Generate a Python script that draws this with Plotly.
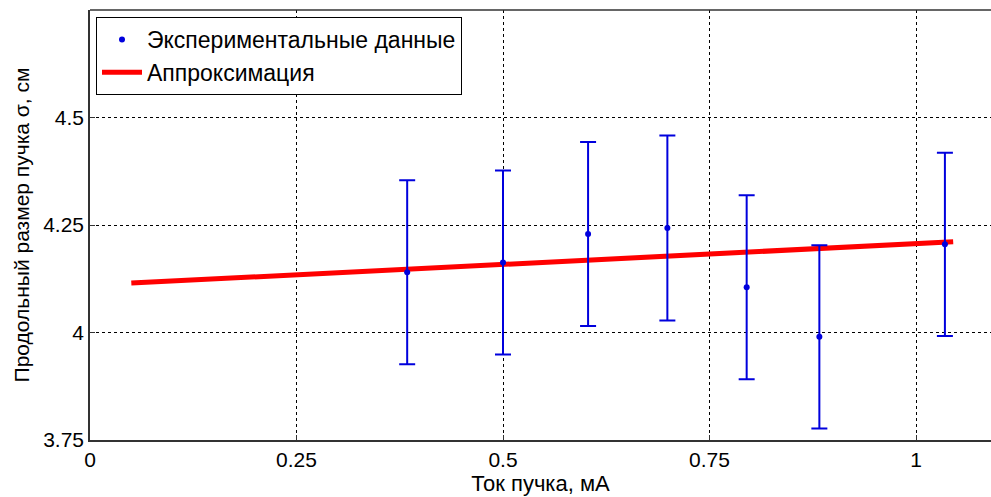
import plotly.graph_objects as go

current_mA = [0.384, 0.500, 0.603, 0.699, 0.795, 0.883, 1.035]
sigma_cm = [4.140, 4.163, 4.229, 4.243, 4.105, 3.990, 4.205]
sigma_err = [0.214, 0.214, 0.214, 0.215, 0.214, 0.213, 0.213]
fit_x = [0.05, 1.045]
fit_y = [4.115, 4.211]
x_ticks = [0, 0.25, 0.5, 0.75, 1]
x_ticklabels = ["0", "0.25", "0.5", "0.75", "1"]
y_ticks = [3.75, 4.0, 4.25, 4.5]
y_ticklabels = ["3.75", "4", "4.25", "4.5"]

FONT = "Liberation Sans, Arial, sans-serif"
BLUE = "#0000dd"
RED = "#ff0000"

fig = go.Figure()
fig.add_trace(go.Scatter(
    x=fit_x, y=fit_y, mode="lines", line=dict(color=RED, width=5),
    showlegend=False))
fig.add_trace(go.Scatter(
    x=current_mA, y=sigma_cm, mode="markers",
    marker=dict(color=BLUE, size=6),
    error_y=dict(type="data", array=sigma_err, color=BLUE, thickness=2, width=8),
    showlegend=False))
# legend entries
fig.add_trace(go.Scatter(x=[None], y=[None], mode="markers",
                         marker=dict(color=BLUE, size=6),
                         name="Экспериментальные данные"))
fig.add_trace(go.Scatter(x=[None], y=[None], mode="lines",
                         line=dict(color=RED, width=5), name="Аппроксимация"))

W, H = 991, 497
L, R, T, B = 90, 0, 10, 57
pw = W - L - R
ph = H - T - B
xmax = (W - L) / 826.0

fig.update_layout(
    width=W, height=H,
    margin=dict(l=L, r=R, t=T, b=B),
    paper_bgcolor="white", plot_bgcolor="white",
    font=dict(family=FONT, size=21, color="black"),
    xaxis=dict(range=[0, xmax], tickvals=x_ticks, ticktext=x_ticklabels,
               showgrid=True, gridcolor="black", griddash="dot", gridwidth=1,
               showline=True, linecolor="#333333", linewidth=1.5,
               ticks="inside", ticklen=5, tickcolor="#333333",
               zeroline=False,
               title=dict(text="Ток пучка, мА", standoff=0, font=dict(size=22)),
               tickfont=dict(size=21)),
    yaxis=dict(range=[3.75, 4.75], tickvals=y_ticks, ticktext=y_ticklabels,
               showgrid=True, gridcolor="black", griddash="dot", gridwidth=1,
               showline=True, linecolor="#333333", linewidth=1.5,
               ticks="inside", ticklen=5, tickcolor="#333333",
               zeroline=False,
               title=dict(text="Продольный размер пучка σ, см", standoff=8,
                          font=dict(size=21)),
               tickfont=dict(size=21)),
    legend=dict(x=(96 - L) / pw, y=1 - (17 - T) / ph, xanchor="left", yanchor="top",
                bgcolor="white", bordercolor="black", borderwidth=1,
                font=dict(size=23), tracegroupgap=0, itemwidth=40),
    shapes=[dict(type="line", xref="paper", yref="paper", x0=0, x1=1, y0=1, y1=1,
                 line=dict(color="#333333", width=1.5))],
)

fig.write_html("out.html")
